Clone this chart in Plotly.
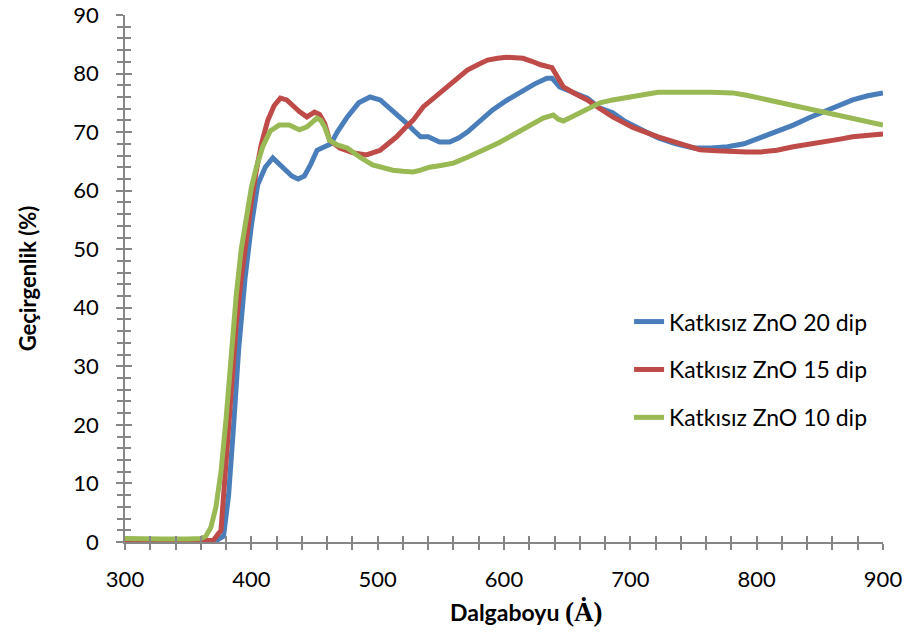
import plotly.graph_objects as go

# ---- data ----
x_20 = [300, 320, 340, 360, 372, 378, 382, 386, 390, 395, 400, 405, 411, 417, 425, 432, 437, 442, 447, 452,
        458, 463, 468, 476, 485, 494, 502, 510, 518, 523, 528, 534, 540, 549, 557, 564, 571, 581, 591, 602,
        613, 624, 634, 638, 644, 650, 658, 666, 676, 686, 696, 708, 722, 736, 750, 764, 777, 790, 803, 816,
        829, 842, 856, 866, 876, 888, 900]
y_20 = [0.3, 0.3, 0.3, 0.2, 0.2, 1.0, 8, 20, 33, 45, 54, 61, 64, 65.6, 64, 62.5, 62, 62.5, 64.5, 66.9,
        67.5, 68, 70, 72.6, 75, 76, 75.5, 74, 72.6, 71.5, 70.4, 69.2, 69.2, 68.3, 68.3, 69, 70, 72, 73.8, 75.4,
        76.8, 78.2, 79.2, 79.2, 77.7, 77.2, 76.5, 75.8, 74.1, 73.3, 71.8, 70.4, 69, 68, 67.3, 67.3, 67.5, 68, 69, 70,
        71.2, 72.5, 73.8, 74.8, 75.5, 76.2, 76.7]

x_15 = [300, 320, 340, 360, 370, 376, 380, 384, 388, 392, 396, 400, 404, 408, 413, 418, 423, 428, 433, 438,
        444, 450, 454, 458, 462, 470, 480, 491, 502, 509, 515, 522, 528, 536, 544, 552, 561, 571, 580, 587,
        595, 602, 609, 615, 622, 629, 638, 642, 647, 656, 666, 676, 686, 702, 722, 740, 755, 768, 781, 792,
        803, 816, 829, 842, 856, 866, 876, 888, 900]
y_15 = [0.2, 0.2, 0.2, 0.2, 0.3, 2, 14, 27, 37, 45, 52, 58, 63.5, 68, 72, 74.5, 75.8, 75.5, 74.5, 73.5,
        72.6, 73.4, 73, 71.5, 68.6, 67.3, 66.5, 66.1, 66.9, 68, 69.2, 70.8, 72, 74.3, 75.8, 77.2, 79, 80.6, 81.6, 82.3,
        82.6, 82.8, 82.7, 82.6, 82.1, 81.5, 81, 79.5, 77.7, 76.6, 75.5, 74, 72.6, 70.8, 69.2, 68, 67, 66.8, 66.6, 66.6,
        66.6, 66.9, 67.5, 67.9, 68.3, 68.8, 69.2, 69.5, 69.7]

x_10 = [300, 310, 330, 350, 360, 364, 368, 372, 376, 380, 384, 388, 392, 396, 400, 404, 409, 415, 422, 430,
        438, 444, 448, 452, 455, 458, 462, 468, 476, 486, 496, 504, 512, 520, 528, 534, 541, 550, 560, 572,
        584, 596, 607, 619, 631, 639, 643, 647, 656, 666, 676, 686, 697, 708, 722, 736, 750, 764, 781, 792,
        803, 816, 829, 842, 856, 866, 876, 888, 900]
y_10 = [0.6, 0.5, 0.5, 0.5, 0.6, 1.0, 2.5, 6, 12, 21, 32, 42, 50, 56, 60.5, 64, 67.5, 70.2, 71.2, 71.2,
        70.4, 70.9, 71.8, 72.4, 72, 70.9, 68.6, 67.8, 67.3, 65.7, 64.4, 63.9, 63.5, 63.3, 63.2, 63.5, 64, 64.3, 64.7, 65.8,
        66.9, 68.2, 69.5, 71, 72.4, 72.9, 72.2, 71.9, 72.8, 73.8, 75, 75.5, 76, 76.3, 76.8, 76.9, 76.8, 76.8, 76.7, 76.3,
        75.8, 75.2, 74.6, 74, 73.4, 72.9, 72.4, 71.8, 71.2]

names = ["Katkısız ZnO 20 dip", "Katkısız ZnO 15 dip", "Katkısız ZnO 10 dip"]
colors = ["#4A7EBB", "#BE4B48", "#98B954"]

FONT = "Lato"
AXC = "#868686"

fig = go.Figure()
for xs, ys, nm, c in zip([x_20, x_15, x_10], [y_20, y_15, y_10], names, colors):
    fig.add_trace(go.Scatter(x=xs, y=ys, mode="lines", name=nm, legendgroup=nm,
                             line=dict(color=c, width=5)))
# invisible trace to anchor the inside-tick overlay axes
fig.add_trace(go.Scatter(x=[], y=[], xaxis="x2", yaxis="y2", showlegend=False, hoverinfo="skip"))

common_x = dict(range=[300, 900], dtick=100, tick0=300, showgrid=False, zeroline=False, automargin=False,
                showline=True, linecolor=AXC, linewidth=1.5, tickcolor=AXC, tickwidth=1.5)
common_y = dict(range=[0, 90], dtick=10, tick0=0, showgrid=False, zeroline=False, automargin=False,
                showline=True, linecolor=AXC, linewidth=1.5, tickcolor=AXC, tickwidth=1.5)

fig.update_layout(
    width=909, height=636,
    margin=dict(l=125, r=26, t=15, b=94),
    plot_bgcolor="white", paper_bgcolor="white",
    font=dict(family=FONT, size=22, color="black"),
    xaxis=dict(**common_x, ticks="outside", ticklen=6,
               minor=dict(dtick=20, ticks="outside", ticklen=6, tickcolor=AXC, tickwidth=1.5, showgrid=False),
               ticklabelstandoff=11, tickfont=dict(size=22, family=FONT)),
    yaxis=dict(**common_y, ticks="outside", ticklen=7,
               minor=dict(dtick=2, ticks="outside", ticklen=6, tickcolor=AXC, tickwidth=1.5, showgrid=False),
               ticklabelstandoff=13, tickfont=dict(size=22, family=FONT),
               title=dict(text="Geçirgenlik (%)", font=dict(size=22, family=FONT, weight="bold"), standoff=31)),
    xaxis2=dict(**common_x, overlaying="x", anchor="y2", side="bottom", ticks="inside", ticklen=6,
                showticklabels=False,
                minor=dict(dtick=20, ticks="inside", ticklen=6, tickcolor=AXC, tickwidth=1.5, showgrid=False)),
    yaxis2=dict(**common_y, overlaying="y", anchor="x2", side="left", ticks="inside", ticklen=7,
                showticklabels=False,
                minor=dict(dtick=2, ticks="inside", ticklen=6, tickcolor=AXC, tickwidth=1.5, showgrid=False)),
    legend=dict(x=0.665, y=0.459, xanchor="left", yanchor="top", bgcolor="rgba(0,0,0,0)",
                font=dict(size=23, family=FONT, color="black"), tracegroupgap=15, borderwidth=0),
    showlegend=True,
    annotations=[dict(
        text="<b>Dalgaboyu </b><span style='font-family:Liberation Serif;font-size:27px'><b>(Ȧ)</b></span>",
        xref="paper", yref="paper", x=0.529, y=-0.133, xanchor="center", yanchor="middle",
        showarrow=False, font=dict(size=23, family=FONT, color="black"))],
)

fig.write_html("out.html", config={"displayModeBar": False},
               post_script="document.body.style.margin='0';document.body.style.padding='0';")
